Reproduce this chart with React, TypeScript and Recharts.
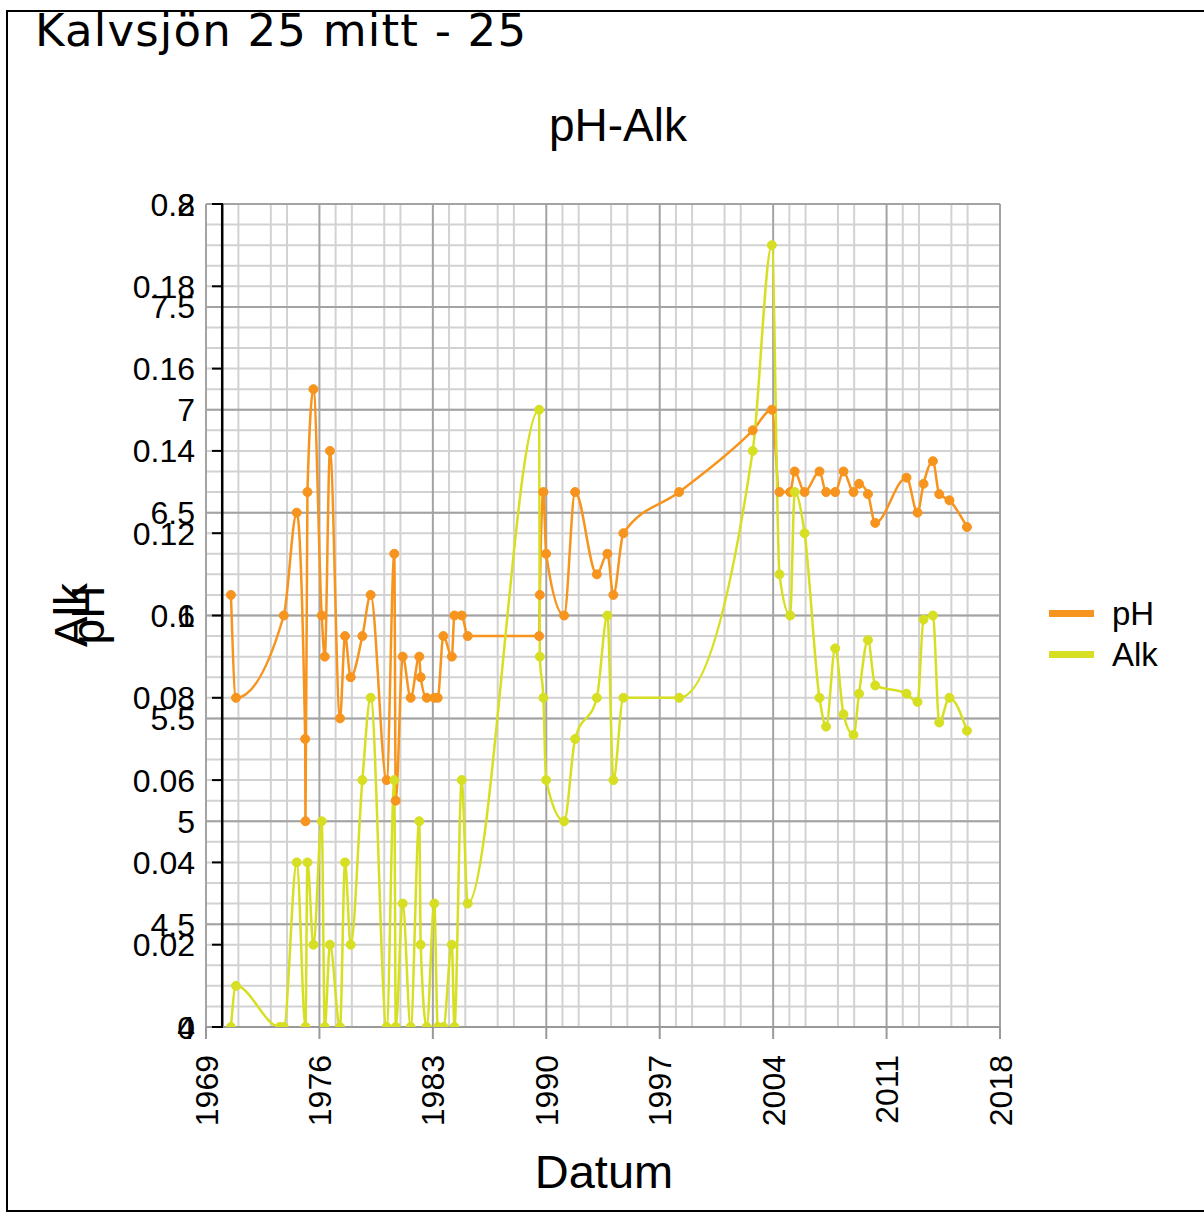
import React from 'react';
import { LineChart, Line, XAxis, YAxis, CartesianGrid, ReferenceLine, Legend } from 'recharts';

// ---- data (decimal year of each sampling date) ----
const YEARS = [
  1970.54, 1970.85, 1973.55, 1973.8, 1974.6, 1975.12, 1975.14, 1975.26, 1975.63, 1976.14,
  1976.33, 1976.65, 1977.27, 1977.58, 1977.93, 1978.65, 1979.16, 1980.15, 1980.62, 1980.71,
  1981.14, 1981.63, 1982.16, 1982.25, 1982.62, 1983.09, 1983.3, 1983.65, 1984.17, 1984.33,
  1984.78, 1985.15, 1989.56, 1989.6, 1989.82, 1989.99, 1991.1, 1991.78, 1993.12, 1993.77,
  1994.14, 1994.76, 1998.2, 2002.74, 2003.92, 2004.39, 2005.05, 2005.33, 2005.94, 2006.86,
  2007.27, 2007.83, 2008.34, 2008.96, 2009.3, 2009.85, 2010.3, 2012.23, 2012.91, 2013.28,
  2013.86, 2014.25, 2014.88, 2015.96,
];

const PH = [
  6.1, 5.6, null, 6.0, 6.5, 5.4, 5.0, 6.6, 7.1, 6.0,
  5.8, 6.8, 5.5, 5.9, 5.7, 5.9, 6.1, 5.2, 6.3, 5.1,
  5.8, 5.6, 5.8, 5.7, 5.6, 5.6, 5.6, 5.9, 5.8, 6.0,
  6.0, 5.9, 5.9, 6.1, 6.6, 6.3, 6.0, 6.6, 6.2, 6.3,
  6.1, 6.4, 6.6, 6.9, 7.0, 6.6, 6.6, 6.7, 6.6, 6.7,
  6.6, 6.6, 6.7, 6.6, 6.64, 6.59, 6.45, 6.67, 6.5, 6.64,
  6.75, 6.59, 6.56, 6.43,
];

const ALK = [
  0, 0.01, 0, 0, 0.04, null, 0, 0.04, 0.02, 0.05,
  0, 0.02, 0, 0.04, 0.02, 0.06, 0.08, 0, 0.06, 0,
  0.03, 0, 0.05, 0.02, 0, 0.03, 0, 0, 0.02, 0,
  0.06, 0.03, 0.15, 0.09, 0.08, 0.06, 0.05, 0.07, 0.08, 0.1,
  0.06, 0.08, 0.08, 0.14, 0.19, 0.11, 0.1, 0.13, 0.12, 0.08,
  0.073, 0.092, 0.076, 0.071, 0.081, 0.094, 0.083, 0.081, 0.079, 0.099,
  0.1, 0.074, 0.08, 0.072,
];

// ---- ticks ----
const X_TICKS = [1969, 1976, 1983, 1990, 1997, 2004, 2011, 2018];
const X_MINOR = [
  1970, 1971, 1973, 1974, 1977, 1978, 1980, 1981, 1984, 1985, 1987, 1988,
  1991, 1992, 1994, 1995, 1998, 1999, 2001, 2002, 2005, 2006, 2008, 2009,
  2012, 2013, 2015, 2016,
];
const PH_TICKS = [4, 4.5, 5, 5.5, 6, 6.5, 7, 7.5, 8];
const PH_MINOR = [
  4, 4.1, 4.2, 4.3, 4.4, 4.5, 4.6, 4.7, 4.8, 4.9,
  5, 5.1, 5.2, 5.3, 5.4, 5.5, 5.6, 5.7, 5.8, 5.9,
  6, 6.1, 6.2, 6.3, 6.4, 6.5, 6.6, 6.7, 6.8, 6.9,
  7, 7.1, 7.2, 7.3, 7.4, 7.5, 7.6, 7.7, 7.8, 7.9, 8,
];
const ALK_TICKS = [0, 0.02, 0.04, 0.06, 0.08, 0.1, 0.12, 0.14, 0.16, 0.18, 0.2];
const AXIS_CROSS_YEAR = 1970;
const SERIES_ORDER = ['pH', 'Alk'];

const PH_COLOR = '#F7941D';
const ALK_COLOR = '#D7DF23';
const FONT = '"Liberation Sans", Arial, sans-serif';

const data = YEARS.map((year, i) => ({ year, pH: PH[i], Alk: ALK[i] }));

const LABEL_X = 195;

function PhTick(props: any) {
  const { y, payload } = props;
  return (
    <text x={LABEL_X} y={y} dy="0.36em" textAnchor="end" fontSize={32} fontFamily={FONT} fill="#000">
      {String(payload.value)}
    </text>
  );
}

function AlkTick(props: any) {
  const { y, payload } = props;
  return (
    <g>
      <line x1={212} x2={223} y1={y} y2={y} stroke="#000" strokeWidth={2} />
      <text x={LABEL_X} y={y} dy="0.36em" textAnchor="end" fontSize={32} fontFamily={FONT} fill="#000">
        {String(payload.value)}
      </text>
    </g>
  );
}

function XTick(props: any) {
  const { x, y, payload } = props;
  const ty = y + 14;
  return (
    <text
      x={x}
      y={ty}
      transform={`rotate(-90, ${x}, ${ty})`}
      textAnchor="end"
      dy="0.36em"
      fontSize={32}
      fontFamily={FONT}
      fill="#000"
    >
      {String(payload.value)}
    </text>
  );
}

function LegendContent(props: any) {
  const items = [...(props.payload || [])].sort(
    (a: any, b: any) => SERIES_ORDER.indexOf(a.value) - SERIES_ORDER.indexOf(b.value)
  );
  return (
    <div style={{ fontFamily: FONT, fontSize: 33, color: '#000' }}>
      {items.map((it: any) => (
        <div key={it.value} style={{ display: 'flex', alignItems: 'center', height: 41, lineHeight: '41px' }}>
          <span style={{ display: 'block', width: 45, height: 7, background: it.color, marginRight: 18 }} />
          <span>{it.value}</span>
        </div>
      ))}
    </div>
  );
}

export default function App() {
  return (
    <div style={{ position: 'absolute', left: 0, top: 0, width: 1204, height: 1220, background: '#fff' }}>
      <div style={{ position: 'absolute', left: 0, top: 0 }}>
        <LineChart width={1204} height={1220} data={data} margin={{ top: 204, right: 204, bottom: 93, left: 0 }}>
          <XAxis xAxisId="minor" type="number" dataKey="year" domain={[1969, 2018]} ticks={X_MINOR} interval={0} hide allowDataOverflow />
          <YAxis yAxisId="minor" type="number" domain={[4, 8]} ticks={PH_MINOR} interval={0} hide allowDataOverflow />
          <XAxis
            type="number"
            dataKey="year"
            domain={[1969, 2018]}
            ticks={X_TICKS}
            interval={0}
            height={100}
            axisLine={{ stroke: '#999', strokeWidth: 2 }}
            tickLine={{ stroke: '#999', strokeWidth: 2 }}
            tickSize={12}
            tickMargin={2}
            tick={<XTick />}
            allowDataOverflow
          />
          <YAxis
            yAxisId="ph"
            type="number"
            domain={[4, 8]}
            ticks={PH_TICKS}
            interval={0}
            width={106}
            axisLine={false}
            tickLine={false}
            tick={<PhTick />}
            allowDataOverflow
          />
          <YAxis
            yAxisId="alk"
            type="number"
            domain={[0, 0.2]}
            ticks={ALK_TICKS}
            interval={0}
            width={100}
            axisLine={false}
            tickLine={false}
            tick={<AlkTick />}
            allowDataOverflow
          />
          <CartesianGrid xAxisId="minor" yAxisId="minor" stroke="#d2d2d2" strokeWidth={2} />
          <CartesianGrid yAxisId="ph" stroke="#a3a3a3" strokeWidth={2} fill="none" />
          <ReferenceLine x={AXIS_CROSS_YEAR} yAxisId="ph" stroke="#000" strokeWidth={2.5} />
          <Line
            yAxisId="ph"
            type="monotone"
            dataKey="pH"
            name="pH"
            stroke={PH_COLOR}
            strokeWidth={2.5}
            dot={{ r: 4.5, fill: PH_COLOR, stroke: PH_COLOR, strokeWidth: 1 }}
            activeDot={false}
            connectNulls
            isAnimationActive={false}
          />
          <Line
            yAxisId="alk"
            type="monotone"
            dataKey="Alk"
            name="Alk"
            stroke={ALK_COLOR}
            strokeWidth={2.5}
            dot={{ r: 4.5, fill: ALK_COLOR, stroke: ALK_COLOR, strokeWidth: 1 }}
            activeDot={false}
            connectNulls
            isAnimationActive={false}
          />
          <Legend
            layout="vertical"
            align="center"
            verticalAlign="middle"
            itemSorter={null as any}
            content={<LegendContent />}
            wrapperStyle={{ position: 'absolute', left: 1049, top: 593, width: 150, height: 82 }}
          />
        </LineChart>
      </div>
      <svg
        width={1204}
        height={1220}
        style={{ position: 'absolute', left: 0, top: 0, pointerEvents: 'none' }}
      >
        <path d="M1204,11 H7 V1211 H1204" fill="none" stroke="#000" strokeWidth={2} />
        <text x={35} y={46} fontSize={45} letterSpacing={1.2} fontFamily='"DejaVu Sans", Verdana, sans-serif' fill="#000">
          Kalvsjön 25 mitt - 25
        </text>
        <text x={618} y={141} fontSize={46} fontFamily={FONT} textAnchor="middle" fill="#000">
          pH-Alk
        </text>
        <text x={87} y={615} transform="rotate(-90, 87, 615)" fontSize={46} fontFamily={FONT} textAnchor="middle" fill="#000">
          Alk
        </text>
        <text x={104} y={615} transform="rotate(-90, 104, 615)" fontSize={46} fontFamily={FONT} textAnchor="middle" fill="#000">
          pH
        </text>
        <text x={604} y={1188} fontSize={47} fontFamily={FONT} textAnchor="middle" fill="#000">
          Datum
        </text>
      </svg>
    </div>
  );
}
